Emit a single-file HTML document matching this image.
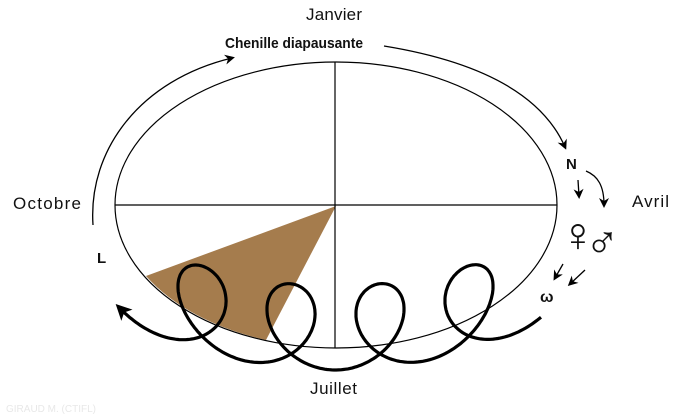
<!DOCTYPE html>
<html><head><meta charset="utf-8"><style>
html,body{margin:0;padding:0;background:#fff;width:700px;height:418px;overflow:hidden}
text{font-family:"Liberation Sans",sans-serif;fill:#111}
</style></head><body>
<svg width="700" height="418" viewBox="0 0 700 418" xmlns="http://www.w3.org/2000/svg">
<defs>
<marker id="ah" markerWidth="10" markerHeight="10" refX="7" refY="5" orient="auto" markerUnits="userSpaceOnUse">
<path d="M0,0 L10,5 L0,10 L3,5 Z" fill="#000"/></marker>
<marker id="ah2" markerWidth="16" markerHeight="16" refX="11" refY="8" orient="auto-start-reverse" markerUnits="userSpaceOnUse">
<path d="M0,0 L16,8 L0,16 L4,8 Z" fill="#000"/></marker>
</defs>
<path d="M336,206 L146,276 A221,142 0 0 0 266,340 Z" fill="#a57c4d"/>
<ellipse cx="336" cy="205" rx="221" ry="143" fill="none" stroke="#000" stroke-width="1.2"/>
<line x1="115" y1="205" x2="557" y2="205" stroke="#000" stroke-width="1.2"/>
<line x1="335" y1="62" x2="335" y2="348" stroke="#000" stroke-width="1.2"/>
<path d="M93,225 C88,150 140,80 232,58" fill="none" stroke="#000" stroke-width="1.3" marker-end="url(#ah)"/>
<path d="M384,46 C470,60 540,90 565,147" fill="none" stroke="#000" stroke-width="1.3" marker-end="url(#ah)"/>
<path d="M578,180 L579,196" fill="none" stroke="#000" stroke-width="1.3" marker-end="url(#ah)"/>
<path d="M586,171 C598,176 604,186 604,205" fill="none" stroke="#000" stroke-width="1.3" marker-end="url(#ah)"/>
<path d="M563,264 L555,278" fill="none" stroke="#000" stroke-width="1.3" marker-end="url(#ah)"/>
<path d="M585,270 L570,284" fill="none" stroke="#000" stroke-width="1.3" marker-end="url(#ah)"/>
<path id="loops" d="" fill="none" stroke="#000" stroke-width="3.2" marker-start="url(#ah2)"/>
<text x="306" y="20" font-size="17" textLength="56">Janvier</text>
<text x="225" y="48" font-size="15" font-weight="bold" textLength="138" lengthAdjust="spacingAndGlyphs">Chenille diapausante</text>
<text x="13" y="209" font-size="17" textLength="68">Octobre</text>
<text x="632" y="207" font-size="17" textLength="37">Avril</text>
<text x="310" y="394" font-size="17" textLength="47">Juillet</text>
<text x="97" y="263" font-size="15" font-weight="bold">L</text>
<text x="566" y="169" font-size="15" font-weight="bold">N</text>
<text x="560" y="251" font-size="48" font-family="DejaVu Sans">♀</text>
<text x="585" y="258" font-size="46" font-family="DejaVu Sans">♂</text>
<text x="540" y="302" font-size="16" font-weight="bold" font-family="Liberation Serif">ω</text>
<text x="6" y="412" font-size="10" style="fill:#e8e8e8">GIRAUD M. (CTIFL)</text>
</svg>
<script>
(function(){
var X0=202,k=89/(2*Math.PI),r=44,R=42,pts=[];
for(var t=-Math.PI-0.7;t<=7*Math.PI+0.5;t+=0.04){
 var x=X0+k*t-r*Math.sin(t);
 var yc=328-0.00113*(x-335)*(x-335);
 var y=yc-R*Math.cos(t);
 pts.push(x.toFixed(1)+","+y.toFixed(1));
}
document.getElementById("loops").setAttribute("d","M"+pts.join(" L"));
})();
</script>
</body></html>
